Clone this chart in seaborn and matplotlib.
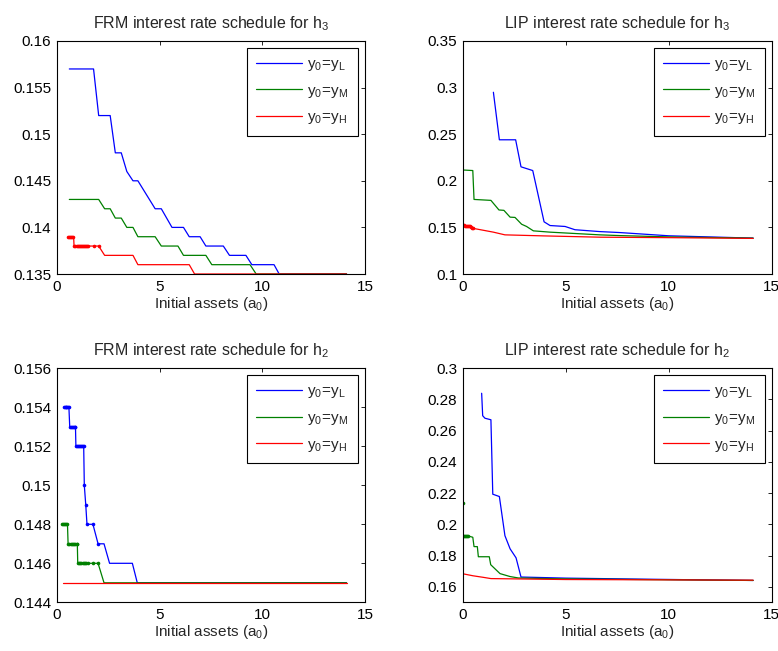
import numpy as np
import pandas as pd
import matplotlib
matplotlib.use("Agg")
import matplotlib.pyplot as plt
from matplotlib.ticker import FuncFormatter
import seaborn as sns

# ---- FRM, h3 ----
frm3_L_x = [0.6, 1.78, 2.03, 2.59, 2.84, 3.13, 3.4, 3.7, 3.94, 4.78, 5.08, 5.6, 6.16, 6.44,
            6.97, 7.25, 8.1, 8.4, 9.2, 9.49, 10.57, 10.82, 14.1]
frm3_L_y = [0.157, 0.157, 0.152, 0.152, 0.148, 0.148, 0.146, 0.145, 0.145, 0.142, 0.142, 0.140,
            0.140, 0.139, 0.139, 0.138, 0.138, 0.137, 0.137, 0.136, 0.136, 0.135, 0.135]
frm3_M_x = [0.6, 2.03, 2.32, 2.59, 2.84, 3.13, 3.4, 3.7, 3.94, 4.78, 5.08, 5.89, 6.16, 7.25,
            7.54, 9.4, 9.7, 14.1]
frm3_M_y = [0.143, 0.143, 0.142, 0.142, 0.141, 0.141, 0.140, 0.140, 0.139, 0.139, 0.138, 0.138,
            0.137, 0.137, 0.136, 0.136, 0.135, 0.135]
frm3_H_x = [0.55, 0.81, 0.83, 2.03, 2.32, 3.7, 3.94, 6.44, 6.7, 14.1]
frm3_H_y = [0.139, 0.139, 0.138, 0.138, 0.137, 0.137, 0.136, 0.136, 0.135, 0.135]
frm3_H_mx = [0.55, 0.6, 0.65, 0.7, 0.75, 0.8, 0.85, 0.9, 0.95, 1.0, 1.05, 1.1, 1.15, 1.2,
             1.25, 1.3, 1.35, 1.4, 1.45, 1.5, 1.78, 2.03]
frm3_H_my = [0.139] * 6 + [0.138] * 16

# ---- LIP, h3 ----
lip3_L_x = [1.49, 1.78, 2.57, 2.83, 3.40, 3.95, 4.24, 4.97, 5.45, 6.66, 7.6, 10.0, 14.1]
lip3_L_y = [0.295, 0.244, 0.244, 0.215, 0.211, 0.156, 0.152, 0.151, 0.1475, 0.1455, 0.1445,
            0.141, 0.1385]
lip3_M_x = [0.0, 0.49, 0.55, 1.37, 1.76, 2.0, 2.3, 2.54, 2.86, 3.1, 3.43, 4.24, 6.66, 7.64,
            10.0, 14.1]
lip3_M_y = [0.2116, 0.211, 0.180, 0.179, 0.1687, 0.1683, 0.161, 0.1607, 0.1534, 0.151, 0.1463,
            0.1449, 0.142, 0.1412, 0.1398, 0.1385]
lip3_H_x = [0.0, 0.1, 0.2, 0.3, 0.4, 0.5, 1.49, 2.05, 3.91, 6.66, 10.0, 14.1]
lip3_H_y = [0.1527, 0.152, 0.151, 0.1515, 0.150, 0.149, 0.1449, 0.142, 0.1409, 0.1395, 0.139,
            0.1382]
lip3_H_mx = [0.0, 0.05, 0.1, 0.15, 0.2, 0.25, 0.3, 0.35, 0.4, 0.45, 0.5]
lip3_H_my = [0.1527, 0.1524, 0.152, 0.1515, 0.151, 0.1513, 0.1515, 0.151, 0.150, 0.1495, 0.149]

# ---- FRM, h2 ----
frm2_L_x = [0.34, 0.58, 0.62, 0.9, 0.92, 1.30, 1.33, 1.40, 1.46, 1.75, 2.0, 2.29, 2.56, 3.67,
            3.91, 14.1]
frm2_L_y = [0.154, 0.154, 0.153, 0.153, 0.152, 0.152, 0.150, 0.149, 0.148, 0.148, 0.147, 0.147,
            0.146, 0.146, 0.145, 0.145]
frm2_L_mx = [0.34, 0.38, 0.42, 0.46, 0.5, 0.54, 0.58, 0.62, 0.67, 0.72, 0.77, 0.82, 0.86, 0.9,
             0.92, 0.97, 1.02, 1.07, 1.12, 1.17, 1.22, 1.26, 1.3, 1.33, 1.40, 1.46, 1.75, 2.0]
frm2_L_my = [0.154] * 7 + [0.153] * 7 + [0.152] * 9 + [0.150, 0.149, 0.148, 0.148, 0.147]
frm2_M_x = [0.24, 0.51, 0.54, 0.99, 1.01, 2.0, 2.29, 14.1]
frm2_M_y = [0.148, 0.148, 0.147, 0.147, 0.146, 0.146, 0.145, 0.145]
frm2_M_mx = [0.24, 0.29, 0.34, 0.39, 0.45, 0.51, 0.54, 0.6, 0.66, 0.72, 0.78, 0.84, 0.9, 0.95,
             0.99, 1.01, 1.07, 1.13, 1.19, 1.25, 1.31, 1.37, 1.43, 1.51, 1.75, 2.0]
frm2_M_my = [0.148] * 6 + [0.147] * 9 + [0.146] * 11
frm2_H_x = [0.29, 14.1]
frm2_H_y = [0.145, 0.145]

# ---- LIP, h2 ----
lip2_L_x = [0.92, 0.97, 1.08, 1.37, 1.46, 1.78, 2.05, 2.3, 2.59, 2.83, 5.0, 9.0, 14.1]
lip2_L_y = [0.284, 0.2696, 0.268, 0.267, 0.2193, 0.2178, 0.1927, 0.1843, 0.1785, 0.1662,
            0.1655, 0.1648, 0.164]
lip2_M_x = [0.03, 0.03, 0.27, 0.49, 0.55, 0.71, 0.76, 1.29, 1.36, 1.81, 2.3, 2.7, 5.0, 14.1]
lip2_M_y = [0.2134, 0.1925, 0.1925, 0.1917, 0.1857, 0.1857, 0.1792, 0.1792, 0.1741, 0.1684,
            0.1665, 0.1656, 0.165, 0.164]
lip2_M_mx = [0.03, 0.03, 0.08, 0.13, 0.18, 0.23, 0.27]
lip2_M_my = [0.2134, 0.1925, 0.1925, 0.1925, 0.1925, 0.1925, 0.1925]
lip2_H_x = [0.0, 0.5, 1.0, 1.37, 5.0, 14.1]
lip2_H_y = [0.1683, 0.167, 0.166, 0.1652, 0.1646, 0.1642]

labels = [r'$\mathregular{y_0\!=\!y_L}$', r'$\mathregular{y_0\!=\!y_M}$',
          r'$\mathregular{y_0\!=\!y_H}$']
colors = ['#0000ff', '#008000', '#ff0000']

panels = [
    dict(title=r'FRM interest rate schedule for $\mathregular{h_3}$',
         lines=[(frm3_L_x, frm3_L_y), (frm3_M_x, frm3_M_y), (frm3_H_x, frm3_H_y)],
         marks=[(None, None), (None, None), (frm3_H_mx, frm3_H_my)],
         ylim=(0.135, 0.16), yticks=[0.135, 0.14, 0.145, 0.15, 0.155, 0.16],
         pos=[57 / 778, 1 - 274 / 651, 308 / 778, 233 / 651]),
    dict(title=r'LIP interest rate schedule for $\mathregular{h_3}$',
         lines=[(lip3_L_x, lip3_L_y), (lip3_M_x, lip3_M_y), (lip3_H_x, lip3_H_y)],
         marks=[(None, None), (None, None), (lip3_H_mx, lip3_H_my)],
         ylim=(0.1, 0.35), yticks=[0.1, 0.15, 0.2, 0.25, 0.3, 0.35],
         pos=[462.7 / 778, 1 - 274 / 651, 309 / 778, 233 / 651]),
    dict(title=r'FRM interest rate schedule for $\mathregular{h_2}$',
         lines=[(frm2_L_x, frm2_L_y), (frm2_M_x, frm2_M_y), (frm2_H_x, frm2_H_y)],
         marks=[(frm2_L_mx, frm2_L_my), (frm2_M_mx, frm2_M_my), (None, None)],
         ylim=(0.144, 0.156), yticks=[0.144, 0.146, 0.148, 0.15, 0.152, 0.154, 0.156],
         pos=[57 / 778, 1 - 602.3 / 651, 308 / 778, 234 / 651]),
    dict(title=r'LIP interest rate schedule for $\mathregular{h_2}$',
         lines=[(lip2_L_x, lip2_L_y), (lip2_M_x, lip2_M_y), (lip2_H_x, lip2_H_y)],
         marks=[(None, None), (lip2_M_mx, lip2_M_my), (None, None)],
         ylim=(0.15, 0.3), yticks=[0.16, 0.18, 0.2, 0.22, 0.24, 0.26, 0.28, 0.3],
         pos=[462.7 / 778, 1 - 602.3 / 651, 309 / 778, 234 / 651]),
]

sns.set_style("white")
plt.rcParams['font.family'] = ['Liberation Sans', 'DejaVu Sans']
plt.rcParams.update({
    'font.size': 11,
    'axes.edgecolor': 'black',
    'axes.linewidth': 0.8,
    'xtick.direction': 'in',
    'ytick.direction': 'in',
    'xtick.top': True,
    'ytick.right': True,
    'xtick.major.size': 3,
    'ytick.major.size': 3,
    'xtick.major.width': 0.6,
    'ytick.major.width': 0.6,
    'xtick.color': 'black',
    'ytick.color': 'black',
    'mathtext.default': 'regular',
})

fmt = FuncFormatter(lambda v, p: ('%g' % round(v, 4)))

fig = plt.figure(figsize=(7.78, 6.51), dpi=100, facecolor='white')

for p in panels:
    ax = fig.add_axes(p['pos'])
    for (xs, ys), col, lab in zip(p['lines'], colors, labels):
        df = pd.DataFrame({'x': xs, 'y': ys})
        sns.lineplot(data=df, x='x', y='y', sort=False, estimator=None, color=col,
                     linewidth=0.9, label=lab, ax=ax)
    for (mx, my), col in zip(p['marks'], colors):
        if mx is not None:
            ax.plot(mx, my, linestyle='none', marker='o', markersize=2.6, color=col,
                    markeredgewidth=0)
    ax.set_xlim(0, 15)
    ax.set_ylim(*p['ylim'])
    ax.set_xticks([0, 5, 10, 15])
    ax.set_yticks(p['yticks'])
    ax.yaxis.set_major_formatter(fmt)
    ax.tick_params(labelsize=11, pad=4)
    ax.set_title(p['title'], fontsize=11.5, pad=9)
    ax.set_xlabel(r'Initial assets ($\mathregular{a_0}$)', fontsize=11, labelpad=1)
    ax.set_ylabel('')
    leg = ax.legend(loc='upper right', fontsize=11, frameon=True, fancybox=False,
                    edgecolor='black', framealpha=1, borderaxespad=0.45,
                    handlelength=3.0, labelspacing=0.7, borderpad=0.6,
                    handletextpad=0.35)
    leg.get_frame().set_linewidth(0.8)

fig.savefig('out.png', dpi=100, facecolor='white')
